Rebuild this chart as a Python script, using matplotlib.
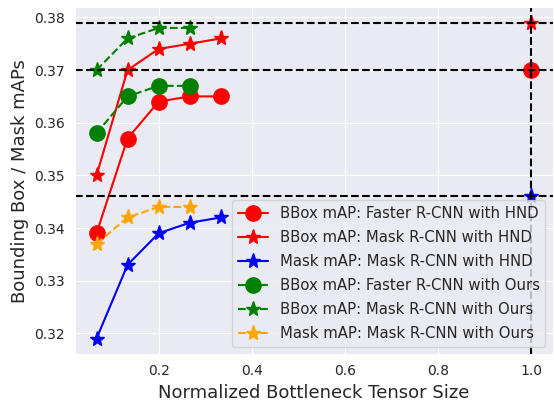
import numpy as np
import matplotlib
matplotlib.use('Agg')
import matplotlib.pyplot as plt
import seaborn as sns

sns.set_style('darkgrid')

# normalized bottleneck sizes
x_hnd = [0.0667, 0.1333, 0.2, 0.2667, 0.3333]
x_ours = [0.0667, 0.1333, 0.2, 0.2667]

bbox_faster_hnd = [0.339, 0.357, 0.364, 0.365, 0.365]
bbox_mask_hnd = [0.350, 0.370, 0.374, 0.375, 0.376]
mask_mask_hnd = [0.319, 0.333, 0.339, 0.341, 0.342]
bbox_faster_ours = [0.358, 0.365, 0.367, 0.367]
bbox_mask_ours = [0.370, 0.376, 0.378, 0.378]
mask_mask_ours = [0.337, 0.342, 0.344, 0.344]

# original (uncompressed) models
x_orig = 1.0
orig_bbox_faster = 0.370
orig_bbox_mask = 0.379
orig_mask_mask = 0.346

ms = 11

fig, ax = plt.subplots(figsize=(5.54, 4.05), dpi=100)

ax.plot(x_hnd, bbox_faster_hnd, 'o-', color='red', markersize=ms, label='BBox mAP: Faster R-CNN with HND')
ax.plot(x_hnd, bbox_mask_hnd, '*-', color='red', markersize=ms, label='BBox mAP: Mask R-CNN with HND')
ax.plot(x_hnd, mask_mask_hnd, '*-', color='blue', markersize=ms, label='Mask mAP: Mask R-CNN with HND')
ax.plot(x_ours, bbox_faster_ours, 'o--', color='green', markersize=ms, label='BBox mAP: Faster R-CNN with Ours')
ax.plot(x_ours, bbox_mask_ours, '*--', color='green', markersize=ms, label='BBox mAP: Mask R-CNN with Ours')
ax.plot(x_ours, mask_mask_ours, '*--', color='orange', markersize=ms, label='Mask mAP: Mask R-CNN with Ours')

ax.plot(x_orig, orig_bbox_faster, 'o', color='red', markersize=ms)
ax.plot(x_orig, orig_bbox_mask, '*', color='red', markersize=ms)
ax.plot(x_orig, orig_mask_mask, '*', color='blue', markersize=ms)

for v in [orig_bbox_faster, orig_bbox_mask, orig_mask_mask]:
    ax.axhline(v, color='black', linestyle='--')
ax.axvline(x_orig, color='black', linestyle='--')

ax.set_xlabel('Normalized Bottleneck Tensor Size', fontsize=13)
ax.set_ylabel('Bounding Box / Mask mAPs', fontsize=13)
ax.set_xticks([0.2, 0.4, 0.6, 0.8, 1.0])
ax.legend(loc='lower right', fontsize=10.7, labelspacing=0.6)

fig.subplots_adjust(left=0.135, right=0.998, top=0.983, bottom=0.125)
fig.savefig('out.png')
